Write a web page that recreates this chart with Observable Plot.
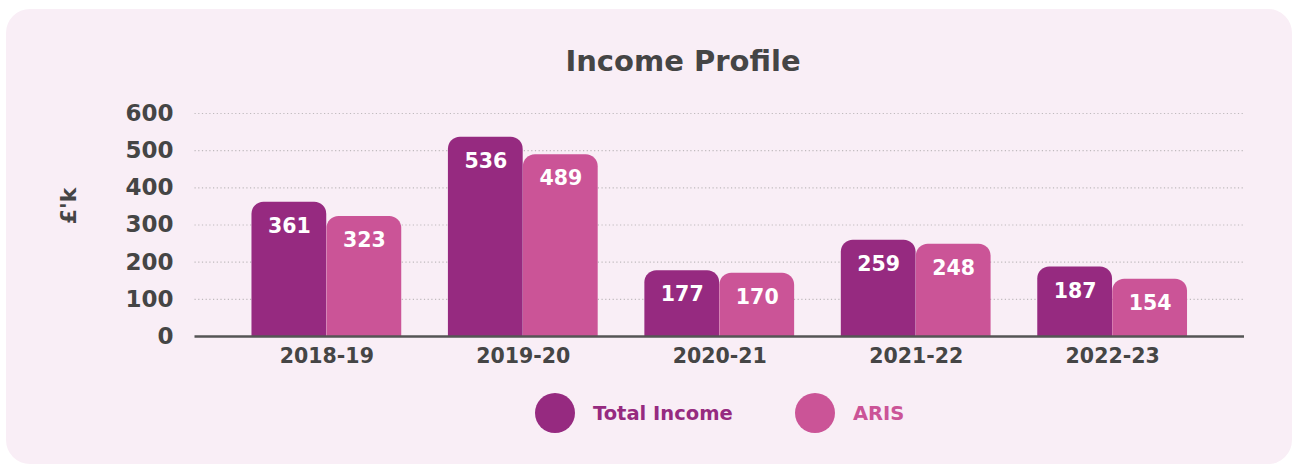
<!DOCTYPE html>
<html>
<head>
<meta charset="utf-8">
<script src="https://cdn.jsdelivr.net/npm/d3@7"></script>
<script src="https://cdn.jsdelivr.net/npm/@observablehq/plot@0.6"></script>
<style>
  html, body { margin: 0; padding: 0; background: #ffffff; width: 1292px; height: 466px; overflow: hidden; }
  body { position: relative; font-family: "DejaVu Sans", sans-serif; }
  #card { position: absolute; left: 6px; top: 9px; width: 1286px; height: 455px; background: #F9EEF6; border-radius: 24px; }
  #title { position: absolute; left: 0; width: 1366px; top: 44px; text-align: center; font-size: 29px; font-weight: bold; color: #454545; }
  #ylab { position: absolute; left: 68px; top: 206px; transform: translate(-50%, -50%) rotate(-90deg); font-size: 22px; font-weight: bold; color: #454545; white-space: nowrap; }
  #chart { position: absolute; left: 0; top: 95px; }
  .leg { position: absolute; top: 393px; display: flex; align-items: center; height: 40px; }
  .dot { width: 40px; height: 40px; border-radius: 50%; }
  .lab { font-size: 19.5px; font-weight: bold; margin-left: 18px; }
</style>
</head>
<body>
<div id="card"></div>
<div id="title">Income Profile</div>
<div id="ylab">£'k</div>
<div id="chart"></div>
<div class="leg" style="left:535px"><div class="dot" style="background:#962A80"></div><div class="lab" style="color:#962A80">Total Income</div></div>
<div class="leg" style="left:795px"><div class="dot" style="background:#CB5497"></div><div class="lab" style="color:#CB5497">ARIS</div></div>
<script>
const years = ["2018-19", "2019-20", "2020-21", "2021-22", "2022-23"];
const totalIncome = [361, 536, 177, 259, 187];
const aris = [323, 489, 170, 248, 154];
const yTicks = [0, 100, 200, 300, 400, 500, 600];
const seriesNames = ["Total Income", "ARIS"];
const colors = ["#962A80", "#CB5497"];

const data = years.map((y, i) => ({year: y, total: totalIncome[i], aris: aris[i]}));
const half = 75;
const font = {fontFamily: "DejaVu Sans", fontWeight: "bold"};

const chart = Plot.plot({
  width: 1292,
  height: 276,
  marginLeft: 194.5,
  marginRight: 48,
  marginTop: 18,
  marginBottom: 35,
  style: {background: "transparent", fontFamily: "DejaVu Sans", overflow: "visible"},
  x: {domain: years, paddingInner: 0.2376, paddingOuter: 0.29, round: false, axis: null},
  y: {domain: [0, 600], axis: null},
  marks: [
    Plot.ruleY(yTicks.filter(d => d > 0), {stroke: "#bfbabd", strokeWidth: 1.2, strokeDasharray: "1.2,2.5"}),
    Plot.barY(data, {x: "year", y1: -40, y2: "total", fill: colors[0], rx: 12, insetRight: half, clip: true}),
    Plot.barY(data, {x: "year", y1: -40, y2: "aris", fill: colors[1], rx: 12, insetLeft: half, clip: true}),
    Plot.ruleY([0], {stroke: "#555555", strokeWidth: 2.4}),
    Plot.text(data, {x: "year", y: "total", text: d => String(d.total), dx: -half / 2, dy: 24, fill: "white", fontSize: 20.5, ...font}),
    Plot.text(data, {x: "year", y: "aris", text: d => String(d.aris), dx: half / 2, dy: 24, fill: "white", fontSize: 20.5, ...font}),
    Plot.text(yTicks, {y: d => d, text: d => String(d), frameAnchor: "left", textAnchor: "end", dx: -21.5, fill: "#454545", fontSize: 23, ...font}),
    Plot.text(years, {x: d => d, text: d => d, frameAnchor: "bottom", dy: 26, fill: "#454545", fontSize: 20.5, ...font})
  ]
});
document.getElementById("chart").appendChild(chart);
</script>
</body>
</html>
